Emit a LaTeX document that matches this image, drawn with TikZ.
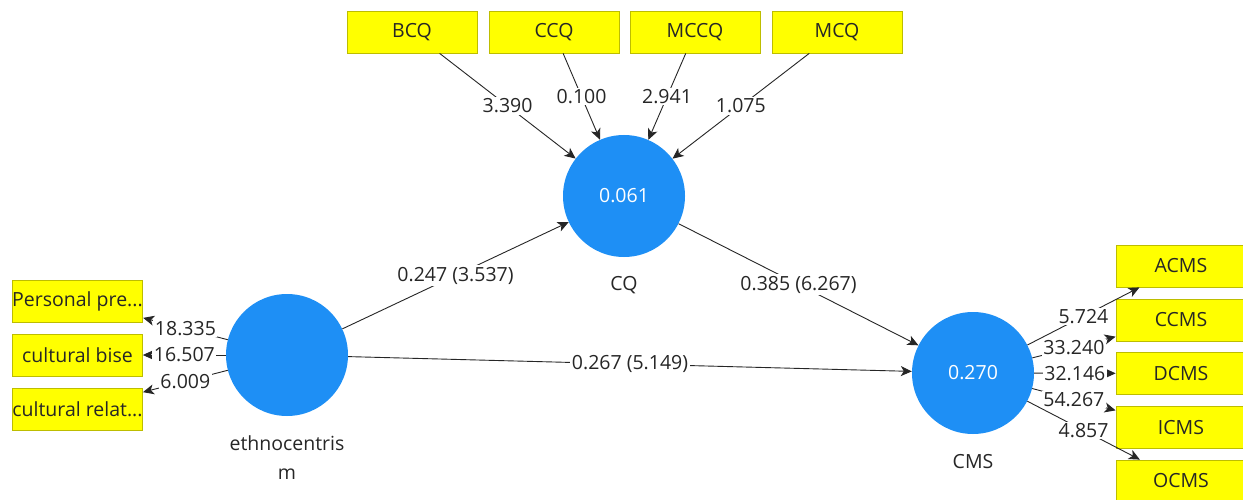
\documentclass[tikz,border=0pt]{standalone}
\usepackage{fontspec}
\setmainfont{Open Sans}
\usetikzlibrary{arrows.meta}
\definecolor{boxyellow}{HTML}{FFFF00}
\definecolor{boxedge}{HTML}{BDBD00}
\definecolor{lvblue}{HTML}{1E8FF5}
\definecolor{ink}{HTML}{262626}
\begin{document}
\begin{tikzpicture}[x=1pt,y=-1pt,
  every node/.style={font=\fontsize{19.5}{29}\selectfont, text=ink},
  mbox/.style={draw=boxedge, line width=0.8pt, fill=boxyellow, minimum width=130pt, minimum height=42pt, inner sep=0pt},
  lv/.style={circle, fill=lvblue, minimum size=122pt, inner sep=0pt, text=white},
  conn/.style={draw=ink, line width=0.9pt, -{Stealth[length=11pt,width=10pt,inset=3pt]}},
  elabel/.style={fill=white, inner sep=1.5pt}
]
\useasboundingbox (0,0) rectangle (1243,500);
\fill[white] (0,0) rectangle (1243,500);

% latent variables
\node[lv] (CQ) at (624,196) {0.061};
\node[lv] (ETH) at (287,355) {};
\node[lv] (CMS) at (973,373) {0.270};
\node (CQn) at (624,285) {CQ};
\node[align=center] (ETHn) at (287,458) {ethnocentris\\m};
\node (CMSn) at (973,462) {CMS};

% indicators
\node[mbox] (BCQ) at (412,32) {BCQ};
\node[mbox] (CCQ) at (554,32) {CCQ};
\node[mbox] (MCCQ) at (695,32) {MCCQ};
\node[mbox] (MCQ) at (837,32) {MCQ};

\node[mbox] (P) at (77.5,301) {Personal pre...};
\node[mbox] (CB) at (77.5,355) {cultural bise};
\node[mbox] (CR) at (77.5,409) {cultural relat...};

\node[mbox] (ACMS) at (1181,266) {ACMS};
\node[mbox] (CCMS) at (1181,320) {CCMS};
\node[mbox] (DCMS) at (1181,373.5) {DCMS};
\node[mbox] (ICMS) at (1181,427.5) {ICMS};
\node[mbox] (OCMS) at (1181,481) {OCMS};

% connectors
\foreach \a/\b in {BCQ/CQ, CCQ/CQ, MCCQ/CQ, MCQ/CQ, ETH/CQ, CQ/CMS, ETH/CMS,
  ETH/P, ETH/CB, ETH/CR, CMS/ACMS, CMS/OCMS, CMS/CCMS, CMS/ICMS, CMS/DCMS}
  \draw[conn] (\a) -- (\b);

% connector labels
\foreach \a/\b/\t in {BCQ/CQ/3.390, CCQ/CQ/0.100, MCCQ/CQ/2.941, MCQ/CQ/1.075,
  ETH/CQ/{0.247 (3.537)}, CQ/CMS/{0.385 (6.267)}, ETH/CMS/{0.267 (5.149)},
  ETH/P/18.335, ETH/CB/16.507, ETH/CR/6.009,
  CMS/ACMS/5.724, CMS/OCMS/4.857, CMS/CCMS/33.240, CMS/ICMS/54.267, CMS/DCMS/32.146}
  \path (\a) -- (\b) node[midway, elabel] {\t};
\end{tikzpicture}
\end{document}
